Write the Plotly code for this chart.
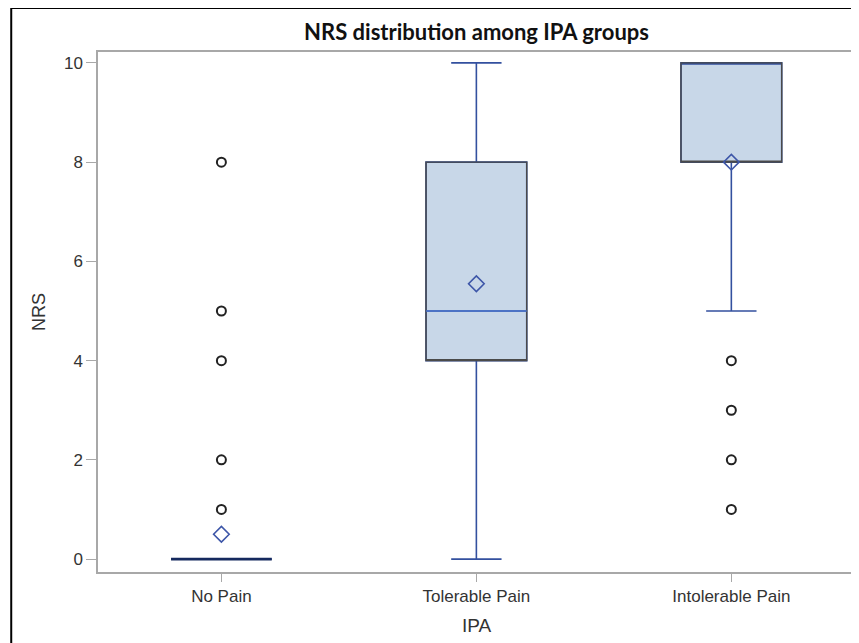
import plotly.graph_objects as go

# ---- data ----
categories = ["No Pain", "Tolerable Pain", "Intolerable Pain"]
q1 = [0, 4, 8]
median = [0, 5, 10]
q3 = [0, 8, 10]
lower_fence = [0, 0, 5]
upper_fence = [0, 10, 10]
means = [0.5, 5.55, 8.0]

outlier_groups = ["No Pain"] * 5 + ["Intolerable Pain"] * 4
outlier_values = [1, 2, 4, 5, 8, 1, 2, 3, 4]

y_ticks = [0, 2, 4, 6, 8, 10]

# ---- styles ----
BLUE = "#33509f"
GREY = "#4a4a4a"
FILL = "#c8d7e8"
AXIS = "#a8a8a8"
BOXW = 0.395

fig = go.Figure()

# main boxes: whiskers, caps, median (blue) with fill
fig.add_trace(go.Box(
    x=categories, q1=q1, median=median, q3=q3,
    lowerfence=lower_fence, upperfence=upper_fence,
    width=BOXW, whiskerwidth=0.5,
    fillcolor=FILL, line=dict(color=BLUE, width=1.6),
    boxpoints=False, hoverinfo="skip", showlegend=False,
))

# dark grey box outline over the filled boxes (groups with a real box)
idx = [i for i in range(len(categories)) if q3[i] > q1[i]]
fig.add_trace(go.Box(
    x=[categories[i] for i in idx],
    q1=[q1[i] for i in idx], median=[q1[i] for i in idx], q3=[q3[i] for i in idx],
    lowerfence=[q1[i] for i in idx], upperfence=[q3[i] for i in idx],
    width=BOXW, whiskerwidth=0.0,
    fillcolor="rgba(0,0,0,0)", line=dict(color=GREY, width=1.4),
    boxpoints=False, hoverinfo="skip", showlegend=False,
))

# medians on top for groups where they lie inside the box
mid_idx = [i for i in idx if q1[i] < median[i] < q3[i]]
fig.add_trace(go.Box(
    x=[categories[i] for i in mid_idx],
    q1=[median[i] for i in mid_idx], median=[median[i] for i in mid_idx],
    q3=[median[i] for i in mid_idx],
    lowerfence=[median[i] for i in mid_idx], upperfence=[median[i] for i in mid_idx],
    width=BOXW, whiskerwidth=0.0,
    fillcolor="rgba(0,0,0,0)", line=dict(color="#4a74cc", width=1.6),
    boxpoints=False, hoverinfo="skip", showlegend=False,
))

# degenerate (zero-height) boxes drawn as a dark navy line
deg_idx = [i for i in range(len(categories)) if q3[i] == q1[i]]
fig.add_trace(go.Box(
    x=[categories[i] for i in deg_idx],
    q1=[q1[i] for i in deg_idx], median=[median[i] for i in deg_idx],
    q3=[q3[i] for i in deg_idx],
    lowerfence=[lower_fence[i] for i in deg_idx], upperfence=[upper_fence[i] for i in deg_idx],
    width=BOXW, whiskerwidth=0.0,
    fillcolor="rgba(0,0,0,0)", line=dict(color="#15295e", width=2.6),
    boxpoints=False, hoverinfo="skip", showlegend=False,
))

# outliers
fig.add_trace(go.Scatter(
    x=outlier_groups, y=outlier_values, mode="markers",
    marker=dict(symbol="circle-open", size=9, color="#222222", line=dict(width=2)),
    hoverinfo="skip", showlegend=False,
))

# means
fig.add_trace(go.Scatter(
    x=categories, y=means, mode="markers",
    marker=dict(symbol="diamond-open", size=12, color="#3d56a8", line=dict(width=1.6)),
    hoverinfo="skip", showlegend=False,
))

# page body has an 8px margin: place everything relative to it
OFF = 8
W, H = 859 - OFF, 643 - OFF
L, R, T, B = 98 - OFF, W - (857 - OFF), 52 - OFF, H - (572 - OFF)
pw, ph = W - L - R, H - T - B

def px_x(p):
    return (p - OFF - L) / pw

def px_y(p):
    return (H - B - (p - OFF)) / ph

fig.update_layout(
    width=W, height=H,
    margin=dict(l=L, r=R, t=T, b=B),
    paper_bgcolor="white", plot_bgcolor="white",
    boxmode="overlay",
    title=dict(
        text="<b>NRS distribution among IPA groups</b>",
        x=0.5, xref="paper", xanchor="center",
        y=1 - (32 - OFF) / H, yref="container", yanchor="middle",
        font=dict(family="Lato", size=22, color="#111111"),
    ),
    font=dict(family="Liberation Sans", size=17, color="#333333"),
    xaxis=dict(
        type="category", categoryorder="array", categoryarray=categories,
        range=[-0.484, 2.485],
        showline=True, linecolor=AXIS, linewidth=1.5, mirror=True,
        ticks="outside", ticklen=8, tickcolor=AXIS, tickwidth=1,
        showgrid=False, zeroline=False,
        tickfont=dict(size=17, color="#333333"),
        title=dict(text="IPA", font=dict(size=19, color="#333333"), standoff=14),
    ),
    yaxis=dict(
        range=[-0.26, 10.22],
        tickvals=y_ticks,
        showline=True, linecolor=AXIS, linewidth=1.5, mirror=True,
        ticks="outside", ticklen=10, tickcolor=AXIS, tickwidth=1,
        showgrid=False, zeroline=False,
        tickfont=dict(size=17, color="#333333"),
        title=dict(text="NRS", font=dict(size=18, color="#333333"), standoff=14),
    ),
    shapes=[
        dict(type="line", xref="paper", yref="paper",
             x0=px_x(11), x1=px_x(11), y0=px_y(660), y1=px_y(8),
             line=dict(color="black", width=2)),
        dict(type="line", xref="paper", yref="paper",
             x0=px_x(11), x1=px_x(870), y0=px_y(8), y1=px_y(8),
             line=dict(color="black", width=2)),
    ],
)

fig.write_html("out.html")
